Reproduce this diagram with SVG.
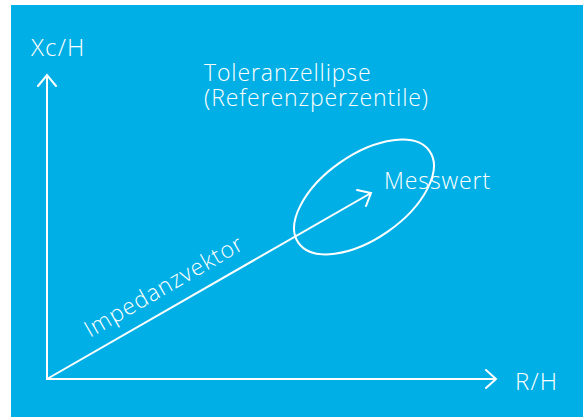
<svg xmlns="http://www.w3.org/2000/svg" width="583" height="417" viewBox="0 0 583 417">
<style>
.t{font-family:"Open Sans","Liberation Sans",sans-serif;font-weight:300;fill:#fff;font-size:23px;letter-spacing:0.9px}
.a{font-size:24px;letter-spacing:1.2px}
.l{stroke:#fff;stroke-width:2;fill:none;stroke-linecap:round;stroke-linejoin:miter}
</style>
<rect x="0" y="0" width="583" height="417" fill="#fff"/>
<rect x="11" y="5" width="572" height="412" fill="#00AFE5"/>
<g id="connectors">
<path class="l" d="M47,379 V75 M38,86 L47,75 L56,86"/>
<path class="l" d="M47,379 H496 M486,370 L496,379 L486,388"/>
<path class="l" d="M47,379 L371,193 M357,190 L371,193 L366,206"/>
</g>
<g id="y-axis-label"><text class="t a" x="31" y="56">Xc/H</text></g>
<g id="x-axis-label"><text class="t a" x="515" y="390">R/H</text></g>
<g id="ellipse">
<ellipse class="l" cx="364" cy="197" rx="80" ry="42" transform="rotate(-35 364 197)"/>
<text class="t" x="204" y="81">Toleranzellipse</text>
<text class="t" x="204" y="106">(Referenzperzentile)</text>
</g>
<g id="messwert"><text class="t" x="384" y="189">Messwert</text></g>
<g id="vector-label"><text class="t" x="0" y="0" transform="translate(90,338) rotate(-30)">Impedanzvektor</text></g>
</svg>
